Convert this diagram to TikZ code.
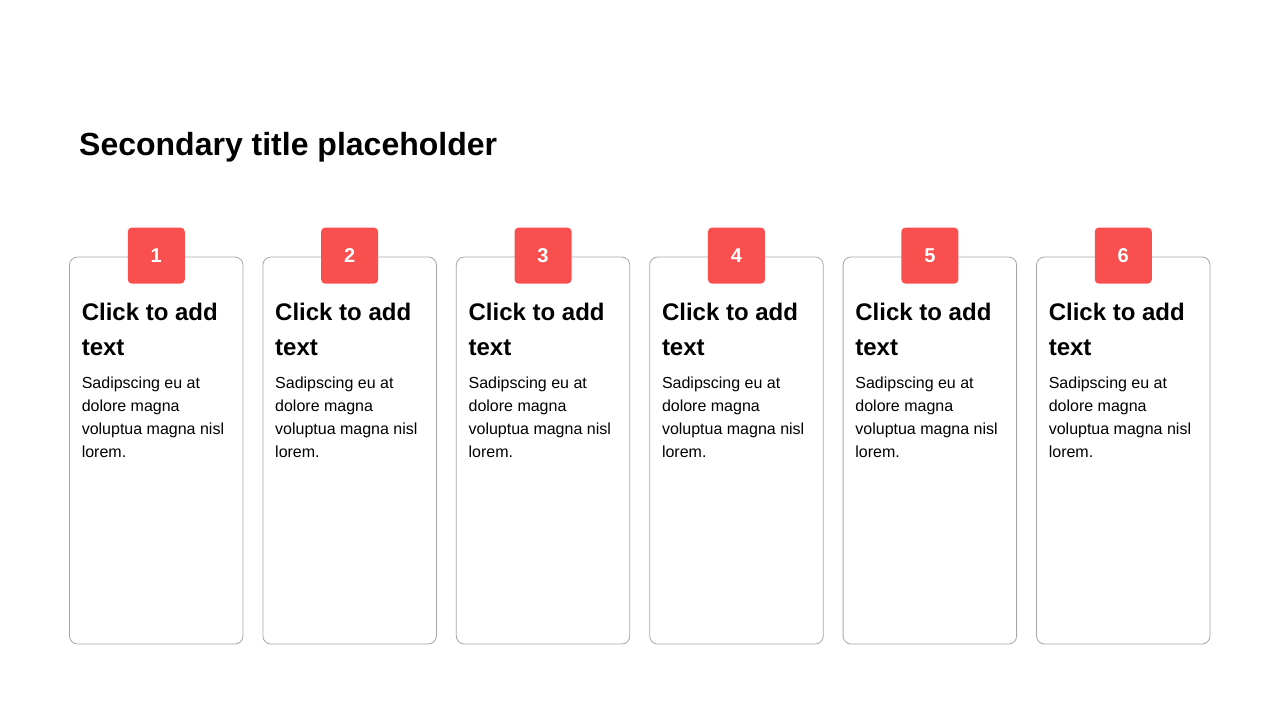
\documentclass[tikz,border=0pt]{standalone}
\usepackage{fontspec}
\setmainfont{Liberation Sans}
\definecolor{badgered}{HTML}{F94F4F}
\definecolor{cardgray}{HTML}{A6A6A6}
\tikzset{
    card/.style={draw=cardgray, line width=0.8pt, rounded corners=8pt, minimum width=173.5pt, minimum height=387pt},
    badge/.style={fill=badgered, rounded corners=4pt, minimum width=57pt, minimum height=56pt, text=white, font=\bfseries\fontsize{20}{24}\selectfont},
    cardhead/.style={align=left, font=\bfseries\fontsize{24}{35}\selectfont},
    cardbody/.style={align=left, font=\fontsize{16}{23}\selectfont}
}
\begin{document}
\begin{tikzpicture}[x=1pt,y=-1pt]
    \tikzstyle{every node}+=[inner sep=0pt]
    \useasboundingbox (0,0) rectangle (1280,720);
    \node [anchor=base west, font=\bfseries\fontsize{32}{38}\selectfont] (title) at (79,155) {Secondary title placeholder};
    \foreach \i in {1,...,6} {
        \pgfmathsetmacro{\xl}{69.5+(\i-1)*193.4}
        \node [card] (card\i) at (\xl+86.75,450.5) {};
        \node [badge] (badge\i) at ([yshift=1pt]card\i.north) {\i};
        \node [cardhead, anchor=north west] (head\i) at ([shift={(12.5,46)}]card\i.north west) {Click to add\\text};
        \node [cardbody, anchor=north west] (body\i) at ([shift={(12.5,120.5)}]card\i.north west) {Sadipscing eu at\\dolore magna\\voluptua magna nisl\\lorem.};
    }
\end{tikzpicture}
\end{document}
